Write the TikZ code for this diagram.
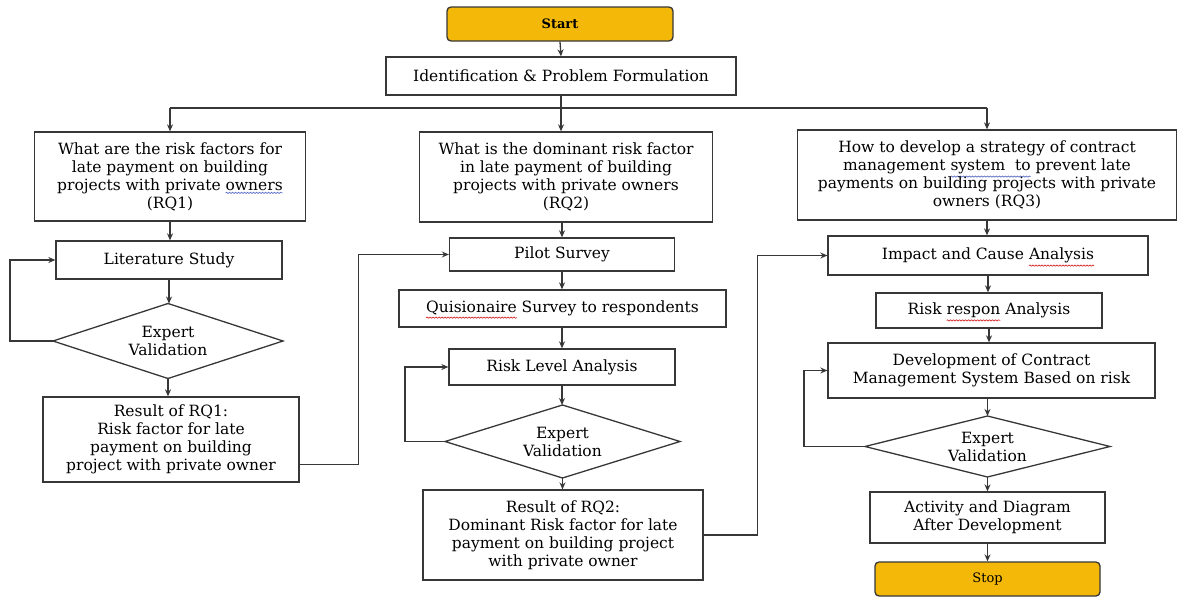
\documentclass[tikz,border=0pt]{standalone}
\usepackage{fontspec}
\setmainfont{DejaVu Serif}
\usetikzlibrary{arrows.meta,decorations.pathmorphing}
\definecolor{gold}{RGB}{243,184,8}
\definecolor{linec}{RGB}{55,55,55}
\definecolor{spellred}{RGB}{215,40,40}
\definecolor{spellblue}{RGB}{90,110,200}
\tikzset{
  plain/.style={shape=rectangle,draw=none,fill=none,inner sep=0pt,outer sep=0pt,
    minimum width=0pt,minimum height=0pt,rounded corners=0pt},
  box/.style={draw=linec,line width=1.3pt,fill=white,align=center,inner sep=2pt,
    font=\fontsize{15.5}{18}\selectfont},
  term/.style={box,fill=gold,rounded corners=4pt,font=\fontsize{13}{15}\selectfont},
  dec/.style={box,draw=none,fill=none,inner sep=0pt,outer sep=0pt},
  decline/.style={draw=linec,line width=1.3pt,line join=miter},
  arr/.style={draw=linec,line width=1.3pt,-{Stealth[length=7pt,width=6pt]}},
  ln/.style={draw=linec,line width=1.3pt},
}
\newcommand{\spell}[3]{\tikz[baseline=(#1.base),x=1pt,y=1pt]{\node[plain] (#1) {#3};
  \draw[overlay,#2,line width=0.7pt,decorate,decoration={snake,amplitude=0.6pt,segment length=3pt}] ([yshift=-2.5pt]#1.south west) -- ([yshift=-2.5pt]#1.south east);}}
\newcommand{\diam}[1]{\draw[decline] (#1.north) -- (#1.east) -- (#1.south) -- (#1.west) -- cycle;}
\begin{document}
\begin{tikzpicture}[x=1pt,y=-1pt]
\useasboundingbox (0,0) rectangle (1179,597);
% column 1
\node[term,minimum width=226pt,minimum height=34pt] (start) at (560,24) {\bfseries Start};
\node[box,minimum width=350pt,minimum height=38pt] (ident) at (561,76) {Identification \& Problem Formulation};
\node[box,minimum width=271pt,minimum height=89pt] (rq1) at (170,176.5) {What are the risk factors for\\late payment on building\\projects with private \spell{ow}{spellblue}{owners}\\(RQ1)};
\node[box,minimum width=226pt,minimum height=38pt] (lit) at (169,260) {Literature Study};
\node[dec,minimum width=230pt,minimum height=75pt] (d1) at (168,341) {Expert\\Validation};
\diam{d1}
\node[box,minimum width=256pt,minimum height=85pt] (res1) at (171,439.5) {Result of RQ1:\\Risk factor for late\\payment on building\\project with private owner};
% column 2
\node[box,minimum width=293pt,minimum height=90pt] (rq2) at (566,177) {What is the dominant risk factor\\in late payment of building\\projects with private owners\\(RQ2)};
\node[box,minimum width=225pt,minimum height=33pt] (pilot) at (562,254.5) {Pilot Survey};
\node[box,minimum width=327pt,minimum height=37pt] (quis) at (562.5,308.5) {\spell{qs}{spellred}{Quisionaire} Survey to respondents};
\node[box,minimum width=226pt,minimum height=36pt] (rla) at (562,367) {Risk Level Analysis};
\node[dec,minimum width=235pt,minimum height=73pt] (d2) at (562.5,441.5) {Expert\\Validation};
\diam{d2}
\node[box,minimum width=280pt,minimum height=90pt] (res2) at (563,535) {Result of RQ2:\\Dominant Risk factor for late\\payment on building project\\with private owner};
% column 3
\node[box,minimum width=379pt,minimum height=90pt] (rq3) at (987,175) {How to develop a strategy of contract\\management \spell{sy}{spellblue}{system\ \ to} prevent late\\payments on building projects with private\\owners (RQ3)};
\node[box,minimum width=320pt,minimum height=39pt] (impact) at (988,255.5) {Impact and Cause \spell{an}{spellred}{Analysis}};
\node[box,minimum width=226pt,minimum height=35pt] (respon) at (989,310.5) {Risk \spell{rs}{spellred}{respon} Analysis};
\node[box,minimum width=327pt,minimum height=55pt] (dev) at (991.5,370.5) {Development of Contract\\Management System Based on risk};
\node[dec,minimum width=245pt,minimum height=61pt] (d3) at (987.5,446.5) {Expert\\Validation};
\diam{d3}
\node[box,minimum width=235pt,minimum height=51pt] (act) at (987.5,517.5) {Activity and Diagram\\After Development};
\node[term,minimum width=225pt,minimum height=34pt] (stop) at (987.5,579) {Stop};
% connectors
\coordinate (hl) at (170,108);
\coordinate (hr) at (987,108);
\draw[arr] (start.south) -- (ident.north);
\draw[arr] (ident.south) -- (ident.south |- rq2.north);
\draw[ln] (hl) -- (hr);
\draw[arr] (hl) -- (rq1.north);
\draw[arr] (hr) -- (rq3.north);
\draw[arr] (rq1.south) -- (rq1.south |- lit.north);
\draw[arr] (lit.south) -- (lit.south |- d1.north);
\draw[arr] (d1.south) -- (d1.south |- res1.north);
\draw[arr] (d1.west) -- ++(-43,0) |- (lit.west);
\draw[arr] ([yshift=-25pt]res1.east) -- ++(59,0) |- (pilot.west);
\draw[arr] (rq2.south -| pilot.north) -- (pilot.north);
\draw[arr] (pilot.south) -- (pilot.south |- quis.north);
\draw[arr] (quis.south -| rla.north) -- (rla.north);
\draw[arr] (rla.south) -- (rla.south |- d2.north);
\draw[arr] (d2.south) -- (d2.south |- res2.north);
\draw[arr] (d2.west) -- ++(-40,0) |- (rla.west);
\draw[arr] (res2.east) -- ++(54,0) |- (impact.west);
\draw[arr] (rq3.south) -- (rq3.south |- impact.north);
\draw[arr] (impact.south) -- (impact.south |- respon.north);
\draw[arr] (respon.south) -- (respon.south |- dev.north);
\draw[arr] (dev.south -| d3.north) -- (d3.north);
\draw[arr] (d3.west) -- ++(-61,0) |- (dev.west);
\draw[arr] (d3.south) -- (d3.south |- act.north);
\draw[arr] (act.south) -- (act.south |- stop.north);
\end{tikzpicture}
\end{document}
